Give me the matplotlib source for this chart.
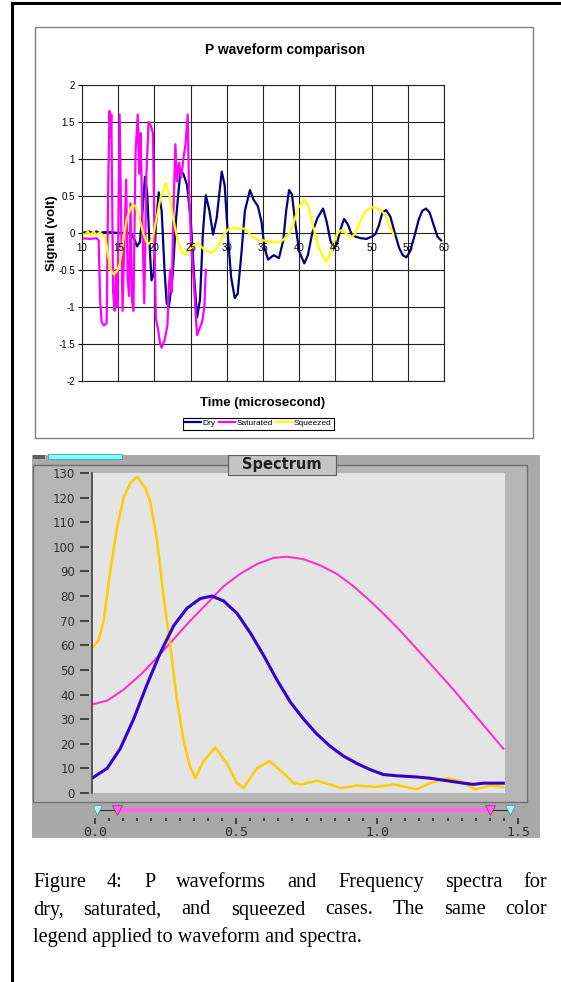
import matplotlib
matplotlib.use("Agg")
import matplotlib.pyplot as plt
from matplotlib.patches import Rectangle
from matplotlib.lines import Line2D

W, H = 561, 982

# ============================================
# DATA
# ============================================

# P waveforms: (time in microsecond, signal in volt)
dry_wave = [
    (10, 0.0), (11, 0.02), (11.5, 0.0), (12, 0.02), (12.5, 0.0), (13, 0.01), (14, 0.01),
    (15, 0.0), (16, 0.0), (16.8, -0.01), (17.3, -0.1), (17.6, -0.18), (18.0, -0.12),
    (18.4, 0.35), (18.7, 0.76), (19.0, 0.55), (19.3, -0.1), (19.6, -0.64), (19.9, -0.55),
    (20.2, 0.1), (20.6, 0.55), (21.0, 0.3), (21.4, -0.5), (21.7, -0.95), (22.0, -1.0),
    (22.5, -0.6), (23.0, 0.2), (23.6, 0.85), (24.0, 0.8), (24.5, 0.65), (25.0, 0.2),
    (25.5, -0.6), (25.9, -1.14), (26.3, -0.9), (26.7, 0.0), (27.1, 0.51), (27.6, 0.3),
    (28.1, -0.02), (28.6, 0.2), (29.3, 0.83), (29.7, 0.65), (30.2, -0.1), (30.6, -0.6),
    (31.1, -0.88), (31.5, -0.82), (32.0, -0.3), (32.5, 0.3), (33.2, 0.58), (33.7, 0.45),
    (34.3, 0.36), (34.8, 0.15), (35.2, -0.2), (35.7, -0.36), (36.2, -0.32), (36.5, -0.3),
    (37.2, -0.34), (37.8, -0.1), (38.2, 0.3), (38.6, 0.58), (39.0, 0.52), (39.5, 0.1),
    (40.0, -0.25), (40.7, -0.41), (41.2, -0.3), (41.8, 0.0), (42.5, 0.2), (43.3, 0.33),
    (43.8, 0.15), (44.3, -0.1), (44.8, -0.2), (45.2, -0.15), (45.7, 0.05), (46.2, 0.19),
    (46.7, 0.12), (47.3, -0.03), (47.8, -0.05), (48.5, -0.07), (49.3, -0.08), (50.0, -0.05),
    (50.5, -0.02), (51.0, 0.1), (51.5, 0.28), (52.0, 0.31), (52.6, 0.22), (53.2, 0.0),
    (53.8, -0.2), (54.3, -0.3), (54.8, -0.33), (55.3, -0.25), (55.9, -0.05), (56.5, 0.18),
    (57.0, 0.3), (57.5, 0.33), (58.0, 0.28), (58.6, 0.1), (59.1, -0.05), (59.6, -0.1),
]

saturated_wave = [
    (10, -0.07), (11, -0.08), (12.0, -0.07), (12.3, -0.1), (12.5, -0.9), (12.7, -1.2),
    (13.0, -1.25), (13.4, -1.22), (13.6, 0.5), (13.8, 1.65), (13.95, 1.3), (14.05, 1.6),
    (14.3, -0.8), (14.5, -1.05), (14.7, -0.5), (14.9, -1.0), (15.2, 1.6), (15.4, 0.2),
    (15.6, -1.05), (15.8, -0.3), (16.1, 0.72), (16.3, -0.6), (16.5, -0.85), (16.7, 0.4),
    (16.9, -0.9), (17.1, -1.05), (17.4, 1.1), (17.7, 1.6), (17.9, 0.8), (18.1, 1.35),
    (18.3, 0.3), (18.6, -0.95), (18.9, 0.8), (19.2, 1.5), (19.5, 1.45), (19.8, 1.35),
    (20.0, 0.0), (20.2, -1.15), (20.5, -1.3), (20.8, -1.5), (21.0, -1.55), (21.4, -1.45),
    (21.8, -1.25), (22.0, -0.7), (22.2, -0.5), (22.4, -0.8), (22.6, 0.2), (22.9, 1.2),
    (23.1, 0.7), (23.4, 0.95), (23.7, 0.75), (24.0, 1.0), (24.3, 1.2), (24.6, 1.6),
    (24.8, 0.5), (25.1, -0.2), (25.4, -0.6), (25.7, -1.1), (25.9, -1.38), (26.2, -1.3),
    (26.6, -1.2), (26.9, -1.0), (27.1, -0.5),
]

squeezed_wave = [
    (10, 0.0), (10.4, -0.03), (10.8, 0.02), (11.2, -0.03), (11.6, 0.02), (12.0, -0.03),
    (12.4, 0.01), (12.8, -0.02), (13.2, -0.05), (13.6, -0.3), (14.0, -0.5), (14.4, -0.56),
    (14.8, -0.52), (15.2, -0.42), (15.7, -0.1), (16.2, 0.2), (16.8, 0.35), (17.4, 0.37),
    (17.9, 0.2), (18.5, -0.02), (19.0, -0.13), (19.3, -0.15), (19.8, -0.05), (20.3, 0.2),
    (20.9, 0.5), (21.6, 0.67), (22.1, 0.5), (22.6, 0.2), (23.2, -0.1), (23.8, -0.26),
    (24.3, -0.29), (24.9, -0.22), (25.4, -0.17), (26.1, -0.14), (26.8, -0.22), (27.8, -0.27),
    (28.4, -0.23), (29.0, -0.13), (29.6, -0.02), (30.2, 0.05), (31.0, 0.07), (31.8, 0.06),
    (32.5, 0.06), (33.2, -0.02), (34.0, -0.08), (35.0, -0.1), (35.8, -0.11), (36.9, -0.13),
    (37.7, -0.1), (38.7, 0.0), (39.2, 0.12), (39.8, 0.33), (40.7, 0.45), (41.3, 0.35),
    (41.9, 0.1), (42.7, -0.2), (43.7, -0.39), (44.2, -0.3), (44.7, -0.15), (45.2, -0.02),
    (45.6, 0.03), (46.0, 0.04), (46.6, -0.02), (47.3, -0.05), (47.8, 0.0), (48.4, 0.15),
    (49.2, 0.3), (50.2, 0.35), (50.8, 0.33), (51.4, 0.3), (52.0, 0.22), (52.5, 0.1),
    (53.0, -0.02),
]

# Spectra: (frequency, amplitude)
squeezed_spec = [
    (0.0, 59), (0.023, 62), (0.041, 70), (0.064, 90), (0.088, 108), (0.111, 120),
    (0.135, 126), (0.158, 128.5), (0.187, 124), (0.205, 118), (0.228, 103), (0.251, 80),
    (0.275, 60), (0.298, 38), (0.322, 21), (0.345, 10.5), (0.363, 6), (0.392, 13),
    (0.433, 18.5), (0.474, 12), (0.509, 4), (0.532, 2), (0.579, 10), (0.623, 13),
    (0.673, 8), (0.708, 4), (0.737, 3.5), (0.789, 5), (0.836, 3.5), (0.871, 2),
    (0.930, 3), (1.000, 2.5), (1.058, 3.5), (1.140, 1.5), (1.187, 4), (1.246, 6),
    (1.292, 5), (1.345, 1.5), (1.398, 3), (1.444, 2.5),
]

dry_spec = [
    (0.0, 6), (0.053, 10), (0.099, 18), (0.146, 30), (0.193, 44), (0.240, 57),
    (0.287, 68), (0.333, 75), (0.380, 79), (0.421, 80), (0.462, 78), (0.509, 73),
    (0.556, 65), (0.602, 56), (0.649, 46), (0.696, 37), (0.743, 30), (0.789, 24),
    (0.836, 19), (0.883, 15), (0.930, 12), (0.977, 9.5), (1.023, 7.5), (1.070, 7),
    (1.140, 6.5), (1.187, 6), (1.246, 5), (1.304, 4), (1.339, 3.5), (1.374, 4),
    (1.444, 4),
]

saturated_spec = [
    (0.0, 36), (0.053, 37.5), (0.111, 42), (0.170, 48), (0.228, 55), (0.287, 62.5),
    (0.345, 70), (0.404, 77), (0.462, 84), (0.520, 89), (0.579, 93), (0.637, 95.5),
    (0.684, 96), (0.743, 95), (0.801, 92.5), (0.860, 89), (0.918, 84), (0.977, 78),
    (1.035, 71.5), (1.094, 64.5), (1.152, 57), (1.211, 49.5), (1.269, 42), (1.327, 34),
    (1.386, 26), (1.444, 18),
]

wave_labels = ["Dry", "Saturated", "Squeezed"]
wave_colors = ["#000080", "#ff00ff", "#ffff00"]
spec_colors = {"dry": "#3300cc", "saturated": "#ff33cc", "squeezed": "#ffcc00"}

x_ticks = list(range(10, 61, 5))
y_ticks = [-2, -1.5, -1, -0.5, 0, 0.5, 1, 1.5, 2]
spec_yticks = list(range(0, 131, 10))
slider_ticks = [0.0, 0.5, 1.0, 1.5]
# slider thumbs (UI decoration): cyan limits, pink selection
slider_outer = [0.007, 1.47]
slider_inner = [0.078, 1.40]

caption_lines = [
    "Figure 4: P waveforms and Frequency spectra for",
    "dry, saturated, and squeezed cases. The same color",
    "legend applied to waveform and spectra.",
]


# ============================================
# HELPERS (pixel coordinates, origin top-left)
# ============================================

fig = plt.figure(figsize=(W / 100, H / 100), dpi=100)


def px_axes(x0, y0, x1, y1, **kw):
    return fig.add_axes([x0 / W, 1 - y1 / H, (x1 - x0) / W, (y1 - y0) / H], **kw)


def px_rect(x0, y0, x1, y1, **kw):
    r = Rectangle((x0 / W, 1 - y1 / H), (x1 - x0) / W, (y1 - y0) / H,
                  transform=fig.transFigure, **kw)
    fig.add_artist(r)
    return r


def px_line(xs, ys, **kw):
    fig.add_artist(Line2D([x / W for x in xs], [1 - y / H for y in ys],
                          transform=fig.transFigure, **kw))


# page frame
px_line([12, 561], [3, 3], color="black", lw=2.2, zorder=10)
px_line([12, 12], [3, 982], color="black", lw=2.2, zorder=10)

# ============================================
# WAVEFORM CHART
# ============================================

px_rect(35, 27, 533, 438, facecolor="white", edgecolor="#808080", lw=1.0, zorder=-1)
fig.text(285 / W, 1 - 50 / H, "P waveform comparison", ha="center", va="center",
         fontsize=10, fontweight="bold", family="Liberation Sans")

ax = px_axes(82, 85, 444, 381)
for (pts, lab, col) in zip([dry_wave, saturated_wave, squeezed_wave], wave_labels, wave_colors):
    t, v = zip(*pts)
    ax.plot(t, v, color=col, lw=1.6, label=lab)

ax.set_xlim(10, 60)
ax.set_ylim(-2, 2)
ax.set_xticks(x_ticks)
ax.set_yticks(y_ticks)
ax.grid(True, color="#222222", lw=0.8)
ax.set_axisbelow(True)
ax.tick_params(axis="x", length=0, labelbottom=False)
ax.tick_params(axis="y", length=3, width=0.8, pad=2, labelsize=7)
ax.set_yticklabels([f"{y:g}" for y in y_ticks], family="Liberation Sans")
for s in ax.spines.values():
    s.set_color("#222222")
    s.set_linewidth(0.8)
for t in x_ticks:
    ax.annotate(str(t), (t, 0), xytext=(0, -7.5), textcoords="offset points",
                ha="center", va="top", fontsize=7, family="Liberation Sans")

fig.text(52 / W, 1 - 233 / H, "Signal (volt)", rotation=90, ha="center", va="center",
         fontsize=9.5, fontweight="bold", family="Liberation Sans")
fig.text(263 / W, 1 - 403 / H, "Time (microsecond)", ha="center", va="center",
         fontsize=9.5, fontweight="bold", family="Liberation Sans")

leg = ax.legend(loc="center", bbox_to_anchor=(258.5 / W, 1 - 423.5 / H),
                bbox_transform=fig.transFigure, ncol=3,
                prop={"family": "Liberation Sans", "size": 6},
                frameon=True, fancybox=False, edgecolor="black", framealpha=1,
                handlelength=1.9, handletextpad=0.2, columnspacing=0.4,
                borderpad=0.25, borderaxespad=0)
leg.get_frame().set_linewidth(0.8)

# ============================================
# SPECTRUM PANEL
# ============================================

px_rect(32, 455, 540, 838, facecolor="#a9a9a9", edgecolor="none", zorder=-2)
px_rect(33, 465, 527, 802, facecolor="#b6b6b6", edgecolor="#707070", lw=1.0, zorder=-1)
px_rect(33, 455, 45, 459, facecolor="#606060", edgecolor="none", zorder=-1)
px_rect(48, 454, 122, 459, facecolor="#80ffff", edgecolor="#40a0a0", lw=0.6, zorder=-1)

sx = px_axes(92, 473, 505, 793)
sx.set_facecolor("#e4e4e4")
for name, pts in [("saturated", saturated_spec), ("squeezed", squeezed_spec), ("dry", dry_spec)]:
    f, a = zip(*pts)
    lw = {"saturated": 1.5, "squeezed": 1.8, "dry": 2.2}[name]
    sx.plot(f, a, color=spec_colors[name], lw=lw, solid_joinstyle="round")
sx.set_xlim(0, 1.45)
sx.set_ylim(0, 130)
sx.set_xticks([])
sx.set_yticks(spec_yticks)
sx.set_yticklabels([str(v) for v in spec_yticks], family="DejaVu Sans Mono")
for s in sx.spines.values():
    s.set_visible(False)
sx.spines["left"].set_position(("outward", 2.2))
sx.tick_params(axis="y", length=6.5, width=1.2, color="#303030", pad=3.5,
               labelsize=8.5, labelcolor="#303030")
sx.axvline(0, color="#404040", lw=1.2, clip_on=False)

# title tab
px_rect(228, 455, 336, 475, facecolor="#c4c4c4", edgecolor="#606060", lw=0.8, zorder=2)
fig.text(282 / W, 1 - 465 / H, "Spectrum", ha="center", va="center", fontsize=10.5,
         fontweight="bold", family="DejaVu Sans", color="#202020", zorder=3)

# slider + frequency axis
sl = px_axes(95, 800, 518, 818)
sl.patch.set_alpha(0)
sl.set_xlim(0, 1.5)
sl.set_ylim(0, 1)
for s in sl.spines.values():
    s.set_visible(False)
sl.plot(slider_outer, [0.45, 0.45], color="#303030", lw=0.8)
sl.plot(slider_inner, [0.45, 0.45], color="#ff66ee", lw=3)
sl.plot(slider_outer, [0.45, 0.45], ls="none", marker="v", ms=7, color="#aaffff",
        mec="#5090a0", mew=0.6)
sl.plot(slider_inner, [0.45, 0.45], ls="none", marker="v", ms=7, color="#ff66ee",
        mec="#a03090", mew=0.6)
sl.set_xticks(slider_ticks)
sl.set_xticks([i * 0.05 for i in range(31)], minor=True)
sl.set_xticklabels([f"{v:.1f}" for v in slider_ticks], family="DejaVu Sans Mono")
sl.set_yticks([])
sl.tick_params(axis="x", which="major", length=4, width=1.2, color="#303030",
               pad=2, labelsize=9.5, labelcolor="#303030")
sl.tick_params(axis="x", which="minor", length=2, width=1.2, color="#303030")

# ============================================
# CAPTION (justified)
# ============================================

cap_left, cap_right, last_width = 33, 547, 329
renderer = fig.canvas.get_renderer()
probe = fig.text(0, 0, caption_lines[-1], fontsize=10, family="Liberation Serif")
size = 10 * last_width / probe.get_window_extent(renderer).width
probe.remove()

for i, line in enumerate(caption_lines):
    y = 1 - (887 + i * 27.5) / H
    if i < len(caption_lines) - 1:
        words = line.split()
        texts = [fig.text(0, y, w, fontsize=size, family="Liberation Serif", va="baseline")
                 for w in words]
        widths = [t.get_window_extent(renderer).width for t in texts]
        gap = (cap_right - cap_left - sum(widths)) / (len(words) - 1)
        x = cap_left
        for t, wd in zip(texts, widths):
            t.set_x(x / W)
            x += wd + gap
    else:
        fig.text(cap_left / W, y, line, fontsize=size, family="Liberation Serif",
                 va="baseline")

fig.savefig("out.png", dpi=100)
